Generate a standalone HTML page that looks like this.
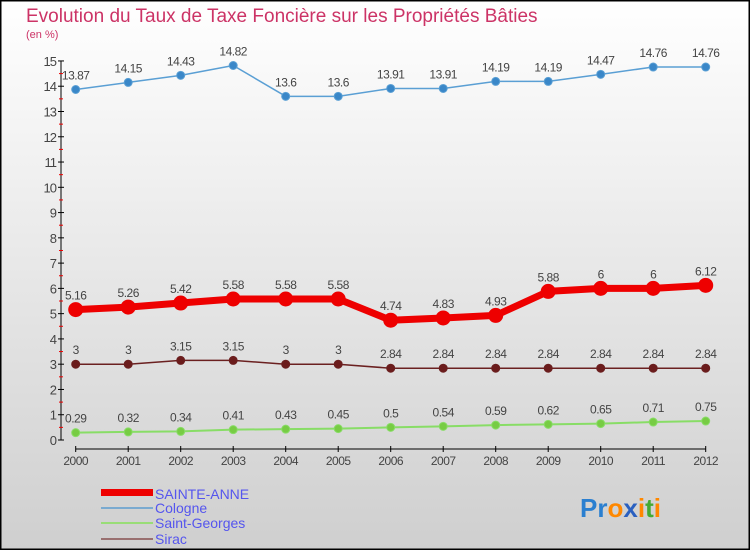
<!DOCTYPE html>
<html><head><meta charset="utf-8"><style>
body{margin:0;width:750px;height:550px;overflow:hidden}
svg{display:block;font-family:"Liberation Sans",sans-serif}
</style></head><body>
<svg id="c" width="750" height="550">
<defs><linearGradient id="bg" x1="0" y1="0" x2="0" y2="1"><stop offset="0" stop-color="#ffffff"/><stop offset="1" stop-color="#cfcfcf"/></linearGradient></defs>
<rect x="0.5" y="0.5" width="749" height="549" fill="url(#bg)" stroke="#000" stroke-width="2"/>
<text x="26" y="22" font-size="19" fill="#cc3366">Evolution du Taux de Taxe Foncière sur les Propriétés Bâties</text>
<text x="26" y="38" font-size="11" fill="#cc3366">(en %)</text>
<g id="axes"></g><g id="series"></g>
<g>
<rect x="101" y="489" width="52" height="7" fill="#ee0000"/>
<text x="155" y="499" font-size="14" fill="#5555ee">SAINTE-ANNE</text>
<rect x="101" y="507" width="52" height="2" fill="#7aaad0"/>
<text x="155" y="513" font-size="14" fill="#5555ee">Cologne</text>
<rect x="101" y="522" width="52" height="2" fill="#99dd77"/>
<text x="155" y="528" font-size="14" fill="#5555ee">Saint-Georges</text>
<rect x="101" y="538" width="52" height="2" fill="#997070"/>
<text x="155" y="544" font-size="14" fill="#5555ee">Sirac</text>
</g>
<text x="580" y="517" font-size="26" font-weight="bold"><tspan fill="#2a7fd0">Pr</tspan><tspan fill="#ff8800">o</tspan><tspan fill="#2a60c0">x</tspan><tspan fill="#ff8800">i</tspan><tspan fill="#44aa33">t</tspan><tspan fill="#ff8800">i</tspan></text>
</svg>
<script>
const years=["2000","2001","2002","2003","2004","2005","2006","2007","2008","2009","2010","2011","2012"];
const yTicks=[0,1,2,3,4,5,6,7,8,9,10,11,12,13,14,15];
const cologne=[13.87,14.15,14.43,14.82,13.6,13.6,13.91,13.91,14.19,14.19,14.47,14.76,14.76];
const sainteAnne=[5.16,5.26,5.42,5.58,5.58,5.58,4.74,4.83,4.93,5.88,6,6,6.12];
const sirac=[3,3,3.15,3.15,3,3,2.84,2.84,2.84,2.84,2.84,2.84,2.84];
const saintGeorges=[0.29,0.32,0.34,0.41,0.43,0.45,0.5,0.54,0.59,0.62,0.65,0.71,0.75];
const NS="http://www.w3.org/2000/svg";
const xS=i=>75.7+i*52.5;
const yS=v=>440-v*25.27;
function mk(t,a,p){const e=document.createElementNS(NS,t);for(const k in a)e.setAttribute(k,a[k]);p.appendChild(e);return e;}
const ax=document.getElementById('axes');
let e=mk('line',{x1:61,y1:yS(15),x2:61,y2:yS(0),stroke:'#000'},ax);


yTicks.forEach(v=>{
  mk('line',{x1:58,y1:yS(v),x2:64,y2:yS(v),stroke:'#000'},ax);
  if(v<15)mk('line',{x1:59,y1:yS(v+0.5),x2:63,y2:yS(v+0.5),stroke:'#ee0000'},ax);
  const t=mk('text',{x:56,y:yS(v)+5,'font-size':13,fill:'#444','text-anchor':'end','letter-spacing':'-1'},ax);
  t.textContent=v;
  
  
});
e=mk('line',{x1:xS(0),y1:449,x2:xS(12),y2:449,stroke:'#000'},ax);


years.forEach((y,i)=>{
  mk('line',{x1:xS(i),y1:446,x2:xS(i),y2:452,stroke:'#000'},ax);
  const t=mk('text',{x:xS(i),y:465,'font-size':12,fill:'#444','text-anchor':'middle','letter-spacing':'-0.5'},ax);
  t.textContent=y;
  
  
});
const sg=document.getElementById('series');
function draw(name,vals,col,dot,w,r){
  const g=mk('g',{},sg);
  
  
  mk('polyline',{points:vals.map((v,i)=>xS(i)+','+yS(v)).join(' '),fill:'none',stroke:col,'stroke-width':w,'stroke-linejoin':'round'},g);
  vals.forEach((v,i)=>{
    const c=mk('circle',{cx:xS(i),cy:yS(v),r:r,fill:dot,stroke:col,'stroke-width':1},g);
    
    
    const t=mk('text',{x:xS(i),y:yS(v)-10,'font-size':12,fill:'#444','text-anchor':'middle','letter-spacing':'-0.5'},g);
    t.textContent=String(v).replace(/^(\d+)\.(\d)$/,'$1.$2');
    
    
  });
}
draw('cologne',cologne,'#5a9fd4','#3a87c8',1.5,4);
draw('sirac',sirac,'#6b2020','#6b1c1c',1.5,4);
draw('saint-georges',saintGeorges,'#88dd66','#77cc44',2,4);
draw('sainte-anne',sainteAnne,'#ee0000','#ee0000',7,7);
</script>
</body></html>
